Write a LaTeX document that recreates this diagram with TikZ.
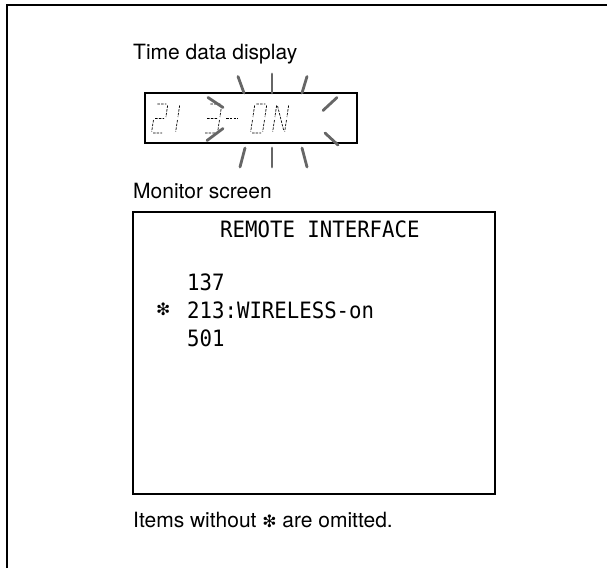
\documentclass[tikz,border=0pt]{standalone}
\usepackage{fontspec}
\setmainfont{TeX Gyre Heros}
\newfontfamily\lcdmono[FakeStretch=0.92]{DejaVu Sans Mono}
\newfontfamily\symfont{DejaVu Sans}
\begin{document}
\begin{tikzpicture}[x=1pt,y=-1pt,
  frameline/.style={line width=1.4pt, black},
  boxline/.style={draw, line width=1.2pt},
  ray/.style={line width=2.8pt, color=black!60, line cap=round},
  seg/.style={line width=0.7pt, dash pattern=on 2.5pt off 1.2pt},
  lbl/.style={anchor=base west, inner sep=0pt, font=\fontsize{21}{24}\selectfont},
  mono/.style={anchor=base west, inner sep=0pt, font=\lcdmono\fontsize{22.5}{26}\selectfont},
  star/.style={anchor=base west, inner sep=0pt, font=\symfont\fontsize{17}{20}\selectfont}]
\useasboundingbox (0,0) rectangle (607,568);
% outer frame (top and left)
\draw[frameline] (7,568) -- (7,5) -- (607,5);
% labels
\node[lbl] (title) at (133,59) {Time data display};
\node[lbl] (mon) at (133,198) {Monitor screen};
\node[lbl] (note) at (133,527) {Items without {\symfont\fontsize{17}{20}\selectfont ❇} are omitted.};
% LCD box
\draw[boxline] (145,93) rectangle (357,143);
% LCD characters
\begin{scope}[shift={(151,133)},xslant=0.15]
  \draw[seg] (2,-29)--(11,-29) (12.5,-27.5)--(12.5,-16) (2,-14.5)--(11,-14.5) (0.5,-13)--(0.5,-1.5) (2,0)--(11,0);
\end{scope}
\begin{scope}[shift={(163,133)},xslant=0.15]
  \draw[seg] (12.5,-27.5)--(12.5,-16) (12.5,-13)--(12.5,-1.5);
\end{scope}
\begin{scope}[shift={(204,133)},xslant=0.15]
  \draw[seg] (2,-29)--(12,-29) (13.5,-27.5)--(13.5,-16) (1,-14.5)--(12,-14.5) (13.5,-13)--(13.5,-1.5) (1,0)--(12,0);
\end{scope}
\begin{scope}[shift={(222,133)},xslant=0.15]
  \draw[seg] (2,-14.5)--(14,-14.5);
\end{scope}
\begin{scope}[shift={(250,133)},xslant=0.15]
  \draw[seg] (2,-29)--(11,-29) (12.5,-27.5)--(12.5,-16) (12.5,-13)--(12.5,-1.5) (2,0)--(11,0) (0.5,-13)--(0.5,-1.5) (0.5,-27.5)--(0.5,-16);
\end{scope}
\begin{scope}[shift={(272,133)},xslant=0.15]
  \draw[seg] (0.5,-27.5)--(0.5,-16) (0.5,-13)--(0.5,-1.5) (1.5,-27)--(11.5,-2) (12.5,-27.5)--(12.5,-16) (12.5,-13)--(12.5,-1.5);
\end{scope}
% blinking rays
\begin{scope}[shift={(272,120.5)}]
  \draw[ray] (0,-46.5) -- (0,-27.5);
  \draw[ray] (0,46.5) -- (0,27.5);
  \draw[ray] (-34,-44) -- (-28,-27.5);
  \draw[ray] (35,-44) -- (30,-27.5);
  \draw[ray] (-32,46.5) -- (-27,27.5);
  \draw[ray] (35,46.5) -- (30,27.5);
  \draw[ray] (-64,-23) -- (-49,-13);
  \draw[ray] (-65,20) -- (-49,8);
  \draw[ray] (65,-23) -- (51,-10);
  \draw[ray] (66,24.5) -- (53,12.5);
\end{scope}
% monitor screen
\draw[boxline] (133,212) rectangle (495,494);
\node[mono] (head) at (220,237) {REMOTE INTERFACE};
\node[mono] (l1) at (187,290) {137};
\node[star] (mark) at (156,315) {❇};
\node[mono] (l2) at (187,318) {213:WIRELESS-on};
\node[mono] (l3) at (187,346) {501};
\end{tikzpicture}
\end{document}
